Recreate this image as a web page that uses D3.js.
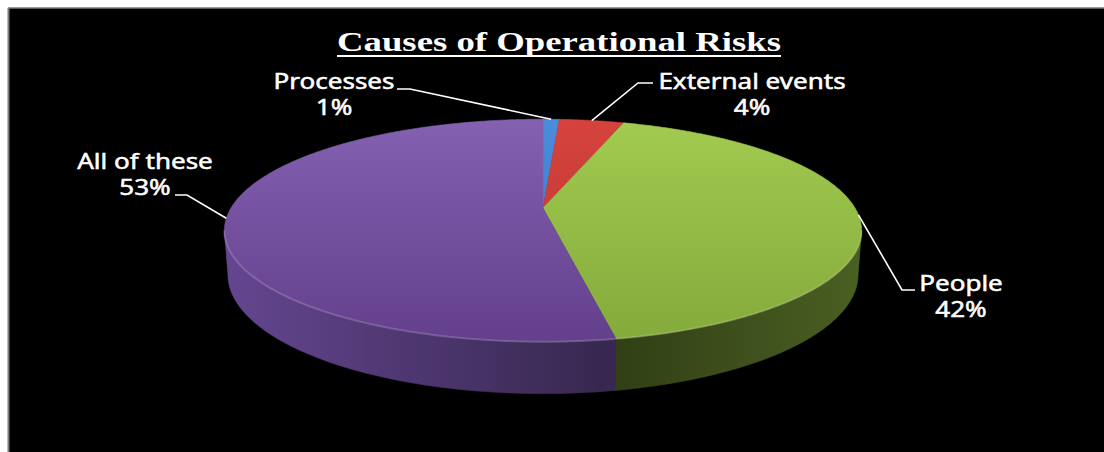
<!DOCTYPE html>
<html>
<head>
<meta charset="utf-8">
<script src="https://cdn.jsdelivr.net/npm/d3@7"></script>
<style>
  html, body { margin: 0; padding: 0; background: #ffffff; }
  svg { display: block; }
</style>
</head>
<body>
<svg id="chart" width="1104" height="452"></svg>
<script>
// Chart data
const categories = ["Processes", "External events", "People", "All of these"];
const values = [1, 4, 42, 53];
const chartTitle = "Causes of Operational Risks";

// Slice colours: top face (light, dark) and side wall (light, dark)
const topColors = [["#4a8ddc", "#3676c4"], ["#d6433d", "#b83430"], ["#a2cb50", "#84aa3b"], ["#8461b1", "#633f8c"]];
const sideColors = [["#2c5a92", "#1f4170"], ["#8c2a26", "#6a1f1c"], ["#4a5f22", "#303d15"], ["#644690", "#382850"]];

const svg = d3.select("#chart");
const W = 1104, H = 452;

// Page frame: white margin on top/left with a thin grey rule, black plot area
svg.append("rect").attr("x", 0).attr("y", 0).attr("width", W).attr("height", H).attr("fill", "#ffffff");
svg.append("rect").attr("x", 8).attr("y", 8).attr("width", W - 8).attr("height", H - 8).attr("fill", "#000000");
svg.append("line").attr("x1", 8).attr("y1", 8).attr("x2", W).attr("y2", 8).attr("stroke", "#7a7a7a").attr("stroke-width", 1.5);
svg.append("line").attr("x1", 8.5).attr("y1", 8).attr("x2", 8.5).attr("y2", H).attr("stroke", "#7a7a7a").attr("stroke-width", 2);

// Perspective projection of a tilted disc (3D pie)
const cx = 543, cy = 208;          // screen position of the disc centre
const elev = 20 * Math.PI / 180;   // camera elevation
const dist = 4.65;                 // camera distance (in disc radii)
const focal = 1451;                // focal length in px
const thick = 0.148;               // disc thickness (in disc radii)

function proj(theta, v) {
  const u = Math.sin(theta), w = Math.cos(theta);
  const xc = u;
  const yc = v * Math.cos(elev) + w * Math.sin(elev);
  const zc = dist + w * Math.cos(elev) - v * Math.sin(elev);
  return [cx + focal * xc / zc, cy - focal * yc / zc];
}

// Visible part of the outer wall lies between the two silhouette angles
const a = Math.cos(elev) / dist;
const sideStart = Math.acos(-a), sideEnd = 2 * Math.PI - Math.acos(-a);

const pie = d3.pie().sort(null).startAngle(0).endAngle(2 * Math.PI);
const arcs = pie(values);
const total = d3.sum(values);

function arcPoints(a0, a1, v) {
  const n = Math.max(2, Math.ceil((a1 - a0) / 0.01));
  return d3.range(n + 1).map(i => proj(a0 + (a1 - a0) * i / n, v));
}

const defs = svg.append("defs");
arcs.forEach((d, i) => {
  const gt = defs.append("linearGradient").attr("id", "top" + i)
    .attr("gradientUnits", "userSpaceOnUse").attr("x1", 0).attr("y1", 118).attr("x2", 0).attr("y2", 342);
  gt.append("stop").attr("offset", "0%").attr("stop-color", topColors[i][0]);
  gt.append("stop").attr("offset", "100%").attr("stop-color", topColors[i][1]);
  const gs = defs.append("linearGradient").attr("id", "side" + i)
    .attr("gradientUnits", "userSpaceOnUse").attr("x1", i === 3 ? 224 : 860).attr("y1", 0).attr("x2", 600).attr("y2", 0);
  gs.append("stop").attr("offset", "0%").attr("stop-color", sideColors[i][0]);
  gs.append("stop").attr("offset", "100%").attr("stop-color", sideColors[i][1]);
});

const line = d3.line();

// Outer walls
const walls = svg.append("g");
arcs.forEach((d, i) => {
  const a0 = Math.max(d.startAngle, sideStart), a1 = Math.min(d.endAngle, sideEnd);
  if (a1 <= a0) return;
  const pts = arcPoints(a0, a1, 0).concat(arcPoints(a0, a1, -thick).reverse());
  walls.append("path").attr("d", line(pts) + "Z").attr("fill", "url(#side" + i + ")")
    .attr("stroke", "url(#side" + i + ")").attr("stroke-width", 0.6);
});

// Top faces
const tops = svg.append("g");
arcs.forEach((d, i) => {
  const pts = [[cx, cy]].concat(arcPoints(d.startAngle, d.endAngle, 0));
  tops.append("path").attr("d", line(pts) + "Z").attr("fill", "url(#top" + i + ")")
    .attr("stroke", "url(#top" + i + ")").attr("stroke-width", 0.6);
});

// Soft highlight along the front rim
arcs.forEach((d, i) => {
  const a0 = Math.max(d.startAngle, sideStart), a1 = Math.min(d.endAngle, sideEnd);
  if (a1 <= a0) return;
  tops.append("path").attr("d", line(arcPoints(a0, a1, 0))).attr("fill", "none")
    .attr("stroke", "#ffffff").attr("stroke-opacity", 0.18).attr("stroke-width", 2);
});

// Title
const titleG = svg.append("g").attr("transform", "translate(559,51)");
const titleText = titleG.append("text").attr("text-anchor", "middle")
  .attr("font-family", "Liberation Serif, Times New Roman, serif").attr("font-weight", "bold")
  .attr("font-size", 27).attr("fill", "#ffffff").text(chartTitle);
const tw = titleText.node().getComputedTextLength();
titleText.attr("transform", "scale(" + (444 / tw) + ",1)");
titleG.append("line").attr("x1", -222).attr("x2", 222).attr("y1", 5).attr("y2", 5)
  .attr("stroke", "#ffffff").attr("stroke-width", 2);

// Data labels: text centre, baseline of first line, leader start and elbow
const labelLayout = [
  { x: 334, y: 89, start: [397, 89], elbow: [410, 89] },
  { x: 752, y: 89, start: [653, 83], elbow: [638, 83] },
  { x: 961, y: 291, start: [915, 290], elbow: [902, 290] },
  { x: 145, y: 169, start: [175, 195], elbow: [187, 195] }
];
const pct = d3.format(".0%");
const labelSx = 1.24;

const labels = svg.append("g");
arcs.forEach((d, i) => {
  const L = labelLayout[i];
  const mid = (d.startAngle + d.endAngle) / 2;
  const end = proj(mid, 0);
  labels.append("path").attr("d", line([L.start, L.elbow, end])).attr("fill", "none")
    .attr("stroke", "#ffffff").attr("stroke-width", 1.6);
  const g = labels.append("g").attr("transform", "translate(" + L.x + "," + L.y + ") scale(" + labelSx + ",1)");
  const t = g.append("text").attr("text-anchor", "middle")
    .attr("font-family", "Noto Sans, Open Sans, sans-serif").attr("font-size", 21)
    .attr("fill", "#ffffff").attr("stroke", "#ffffff").attr("stroke-width", 0.5);
  t.append("tspan").attr("x", 0).attr("y", 0).text(categories[i]);
  t.append("tspan").attr("x", 0).attr("y", 26).text(pct(d.data / total));
});
</script>
</body>
</html>
